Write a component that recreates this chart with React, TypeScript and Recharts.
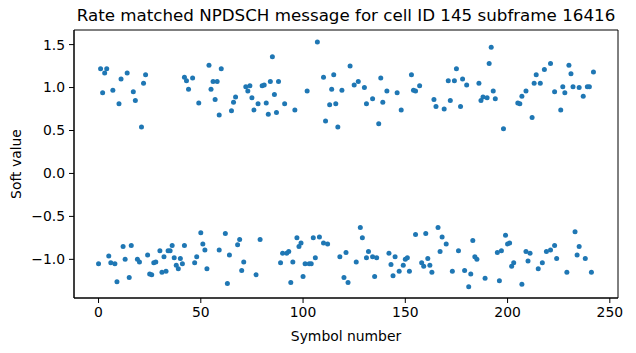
import { ReferenceArea, Scatter, ScatterChart, XAxis, YAxis } from "recharts";

// symbols whose soft value sits near +1
const upperSymbols = [
  1, 2, 3, 4, 7, 10, 11, 14, 17, 18, 21, 22, 23,
  42, 43, 44, 46, 49, 54, 55, 56, 57, 58, 59, 60,
  65, 66, 67, 72, 73, 74, 75, 76,
  78, 80, 81, 82, 83, 84, 85, 86, 87, 88, 91, 96, 102, 107, 110, 111, 113, 114, 115, 116,
  117, 119, 123, 125, 127, 130, 131, 134, 137, 138, 139, 141, 146, 148, 153, 154, 155,
  157, 164, 165, 169, 171, 172, 174, 175, 177, 178, 180, 186, 187, 188, 190, 191, 192, 193, 194,
  198, 205, 206, 207, 209, 212, 213, 214, 216, 218, 221, 223, 226, 227, 228, 230, 231, 232, 235, 237, 239, 240, 242,
];
const upperValues = [
  1.22, 0.94, 1.17, 1.22, 0.97, 0.81, 1.1, 1.17, 0.95, 0.85, 0.54, 1.05, 1.15,
  1.12, 1.08, 0.98, 1.11, 0.82, 1.26, 0.98, 1.07, 0.86, 1.07, 0.68, 1.22,
  0.73, 0.83, 0.89, 1.01, 0.96, 1.02, 0.88, 0.74,
  0.81, 1.02, 1.03, 0.82, 0.69, 1.07, 1.36, 0.92, 0.71, 1.07, 0.81, 0.74, 0.96, 1.53, 1.12, 0.61, 0.8, 0.98, 1.15, 0.81,
  0.54, 0.97, 1.25, 1.03, 1.07, 1.0, 0.81, 0.87, 0.58, 1.11, 0.83, 0.96, 0.94, 0.74, 1.15, 0.97, 0.96,
  1.02, 0.86, 0.78, 0.75, 1.08, 0.85, 1.08, 1.22, 0.78, 1.1, 1.03, 1.05, 0.85, 0.89, 0.88, 1.28, 1.47, 0.96, 0.87,
  0.52, 0.82, 0.81, 0.9, 0.96, 0.65, 1.05, 1.15, 1.05, 1.21, 1.28, 0.95, 0.74, 1.01, 0.94, 1.26, 1.16, 1.01, 1.0, 0.9, 1.01, 1.01, 1.18,
];

// symbols whose soft value sits near -1
const lowerSymbols = [
  0, 5, 6, 8, 9, 12, 13, 15, 16, 19, 20, 24, 25, 26, 27, 28,
  30, 31, 32, 33, 34, 35, 36, 37, 38, 39, 40, 41, 42,
  47, 48, 50, 51, 52, 53, 59, 62, 63, 64, 68, 69, 70, 71, 77, 79,
  89, 90, 92, 93, 94, 95, 97, 98, 99, 100, 101, 103, 104, 105, 106, 108, 110, 112,
  118, 120, 121, 122, 126, 128, 129, 131, 132, 134, 135, 136, 142, 143, 144, 145, 147, 149, 150, 151, 152, 155,
  158, 159, 160, 161, 162, 163, 166, 167, 168, 170, 173, 176, 179, 181, 182, 183, 184, 185, 189,
  195, 196, 197, 199, 200, 201, 202, 203, 207, 209, 210, 211, 215, 217, 219, 221, 223, 224, 229, 233, 234, 235, 238, 241,
];
const lowerValues = [
  -1.05, -0.96, -1.04, -1.05, -1.26, -0.85, -1.0, -1.21, -0.84, -1.0, -1.03, -0.95, -1.17, -1.18, -1.04, -1.03,
  -0.9, -1.15, -0.97, -1.14, -0.9, -0.9, -0.84, -0.98, -1.07, -1.11, -0.99, -1.05, -0.84,
  -1.04, -0.97, -0.69, -0.82, -0.89, -1.11, -0.89, -0.7, -1.28, -0.95, -0.83, -0.77, -1.13, -1.03, -1.18, -0.77,
  -1.04, -0.93, -0.93, -0.91, -1.27, -1.03, -0.75, -0.85, -0.81, -1.2, -1.05, -1.05, -1.05, -0.75, -0.98, -0.74, -0.81, -0.82,
  -0.97, -1.21, -0.92, -1.27, -1.03, -0.63, -0.75, -0.98, -0.91, -0.97, -1.2, -0.98, -0.93, -1.06, -1.19, -0.97, -1.14, -1.07, -1.0, -0.98, -1.14, -0.71,
  -1.04, -1.08, -0.7, -0.99, -1.07, -1.15, -0.63, -0.91, -0.74, -0.82, -1.14, -0.9, -1.13, -1.32, -1.17, -0.78, -0.97, -1.0, -1.22,
  -0.92, -1.25, -0.9, -0.72, -0.82, -0.81, -1.08, -1.04, -1.29, -0.91, -1.02, -0.93, -1.11, -1.04, -0.91, -0.89, -0.84, -0.99, -1.15, -0.68, -0.95, -0.85, -0.99, -1.15,
];

const xTicks = [0, 50, 100, 150, 200, 250];
const yTicks = [-1.0, -0.5, 0.0, 0.5, 1.0, 1.5];

const points = [
  ...upperSymbols.map((s, i) => ({ symbol: s, value: upperValues[i] })),
  ...lowerSymbols.map((s, i) => ({ symbol: s, value: lowerValues[i] })),
];

const X_DOMAIN = [-12, 254];
const Y_DOMAIN = [-1.45, 1.67];
const FONT = "'DejaVu Sans', sans-serif";

const fmt = (v: number) => v.toFixed(1).replace("-", "\u2212");

function Dot(props: any) {
  return <circle cx={props.cx} cy={props.cy} r={2.5} fill="#1f77b4" />;
}

export default function App() {
  return (
    <div
      style={{
        position: "absolute",
        left: 0,
        top: 0,
        width: 636,
        height: 353,
        background: "#fff",
        fontFamily: FONT,
        color: "#000",
      }}
    >
      <div
        style={{
          position: "absolute",
          left: 74,
          width: 544,
          top: 5,
          textAlign: "center",
          fontSize: 16.7,
          lineHeight: "20px",
          whiteSpace: "nowrap",
        }}
      >
        Rate matched NPDSCH message for cell ID 145 subframe 16416
      </div>
      <ScatterChart width={636} height={353} margin={{ top: 30, right: 18, bottom: 0, left: 0 }}>
        <XAxis
          type="number"
          dataKey="symbol"
          domain={X_DOMAIN}
          ticks={xTicks}
          allowDataOverflow
          height={55}
          tickSize={5}
          tickMargin={4}
          stroke="#000"
          tick={{ fill: "#000", fontSize: 13.9 }}
          label={{ value: "Symbol number", position: "insideBottom", offset: 12, fill: "#000", fontSize: 13.9 }}
        />
        <YAxis
          type="number"
          dataKey="value"
          domain={Y_DOMAIN}
          ticks={yTicks}
          allowDataOverflow
          width={74}
          tickSize={5}
          tickMargin={4}
          stroke="#000"
          tickFormatter={fmt}
          tick={{ fill: "#000", fontSize: 13.9 }}
          label={{
            value: "Soft value",
            angle: -90,
            position: "insideLeft",
            offset: 16,
            fill: "#000",
            fontSize: 13.9,
            style: { textAnchor: "middle" },
          }}
        />
        <ReferenceArea
          x1={X_DOMAIN[0]}
          x2={X_DOMAIN[1]}
          y1={Y_DOMAIN[0]}
          y2={Y_DOMAIN[1]}
          fill="none"
          stroke="#000"
          strokeWidth={1}
        />
        <Scatter data={points} shape={<Dot />} isAnimationActive={false} />
      </ScatterChart>
    </div>
  );
}
